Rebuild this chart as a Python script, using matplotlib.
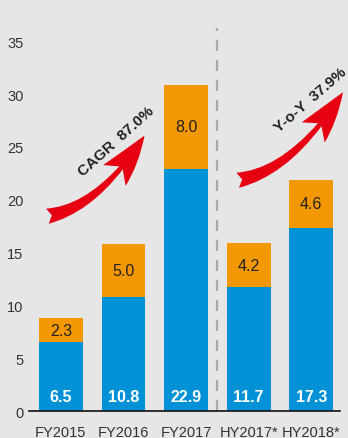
import matplotlib
matplotlib.use("Agg")
import matplotlib.pyplot as plt
from matplotlib.patches import FancyArrowPatch

plt.rcParams['font.family'] = ['Liberation Sans', 'DejaVu Sans']

periods = ['FY2015', 'FY2016', 'FY2017', 'HY2017*', 'HY2018*']
base_vals = [6.5, 10.8, 22.9, 11.7, 17.3]
top_vals = [2.3, 5.0, 8.0, 4.2, 4.6]

bg = '#e6e6e6'
blue = '#0091d6'
orange = '#f39800'
red = '#e60012'

fig = plt.figure(figsize=(3.48, 4.39), dpi=100, facecolor=bg)
ax = fig.add_axes([0.0833, 0.0615, 0.894, 0.9385], facecolor=bg)

x = list(range(len(periods)))
ax.bar(x, base_vals, width=0.7, color=blue)
ax.bar(x, top_vals, width=0.7, bottom=base_vals, color=orange)

for i in x:
    ax.text(i, 1.4, f'{base_vals[i]:.1f}', ha='center', va='center',
            color='white', fontsize=11.5, fontweight='bold')
    ax.text(i, base_vals[i] + top_vals[i] / 2, f'{top_vals[i]:.1f}',
            ha='center', va='center', color='#222222', fontsize=11.5)

# dashed separator between full years and half years
ax.plot([2.5, 2.5], [0, 36.3], color='#aaaaaa', lw=1.6, ls=(0, (5, 4)))

# growth arrows
for tail, tip in [((-0.26, 18.4), (1.36, 26.3)), ((2.78, 21.8), (4.53, 30.4))]:
    arr = FancyArrowPatch(tail, tip, connectionstyle='angle3,angleA=8,angleB=58',
                          arrowstyle='fancy,head_length=36,head_width=22,tail_width=11',
                          mutation_scale=1, color=red, lw=0, clip_on=False)
    ax.add_patch(arr)

ax.text(0.89, 25.6, 'CAGR  87.0%', rotation=42, ha='center', va='center',
        fontsize=11, fontweight='bold', color='#222222')
ax.text(3.98, 29.5, 'Y-o-Y  37.9%', rotation=41, ha='center', va='center',
        fontsize=11, fontweight='bold', color='#222222')

ax.set_xlim(-0.51, 4.46)
ax.set_ylim(0, 39)
ax.set_xticks(x)
ax.set_xticklabels(periods)
ax.set_yticks([0, 5, 10, 15, 20, 25, 30, 35])
ax.tick_params(axis='both', length=0, labelsize=10.5, colors='#333333')
ax.tick_params(axis='x', pad=10)
ax.tick_params(axis='y', pad=4)
for s in ['top', 'right', 'left']:
    ax.spines[s].set_visible(False)
ax.spines['bottom'].set_color('#111111')
ax.spines['bottom'].set_linewidth(1.2)

fig.savefig('out.png', dpi=100, facecolor=bg)
